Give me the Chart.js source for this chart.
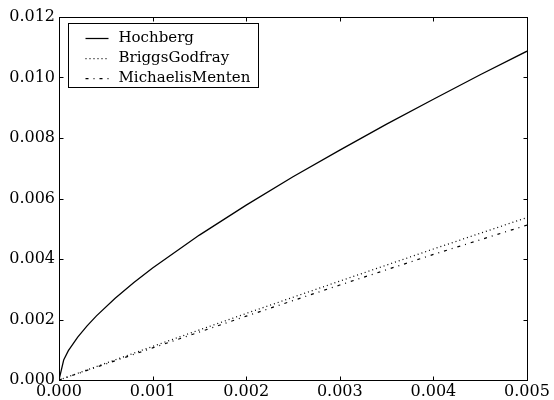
<!DOCTYPE html>
<html>
<head>
<meta charset="utf-8">
<script src="https://cdn.jsdelivr.net/npm/chart.js@4"></script>
<style>
  body { margin: 0; background: #fff; }
</style>
</head>
<body>
<canvas id="rateChart" width="554" height="400"></canvas>
<script>
// values
const hochbergX = [0, 0.00005, 0.0001, 0.0002, 0.0003, 0.0004, 0.0006, 0.0008, 0.001, 0.0015, 0.002, 0.0025, 0.003, 0.0035, 0.004, 0.0045, 0.005];
const hochberg = [0, 0.00066, 0.00097, 0.00142, 0.00179, 0.00212, 0.0027, 0.00322, 0.0037, 0.00479, 0.00578, 0.00672, 0.0076, 0.00846, 0.00928, 0.01009, 0.01087];
const linearX = [0, 0.001, 0.002, 0.003, 0.004, 0.005];
const briggsGodfray = [0, 0.00111, 0.0022, 0.00327, 0.00433, 0.00537];
const michaelisMenten = [0, 0.00106, 0.00211, 0.00314, 0.00415, 0.00512];
const xTicks = [0, 0.001, 0.002, 0.003, 0.004, 0.005];
const yTicks = [0, 0.002, 0.004, 0.006, 0.008, 0.01, 0.012];

function pairs(xs, ys) {
    return xs.map((x, i) => ({x: x, y: ys[i]}));
}

Chart.defaults.font.family = "'DejaVu Serif', serif";
Chart.defaults.font.size = 16;
Chart.defaults.color = '#000';

// box round the plot and inward tick marks on all four sides
const frameTicks = {
    id: 'frameTicks',
    afterDatasetsDraw(chart) {
        const ctx = chart.ctx;
        const a = chart.chartArea;
        const xs = chart.scales.x, ys = chart.scales.y;
        const L = Math.round(a.left) + 0.5, R = Math.round(a.right) + 0.5;
        const T = Math.round(a.top) + 0.5, B = Math.round(a.bottom) + 0.5;
        ctx.save();
        ctx.strokeStyle = '#000';
        ctx.lineWidth = 1;
        ctx.strokeRect(L, T, R - L, B - T);
        ctx.beginPath();
        xTicks.forEach(v => {
            const px = Math.round(xs.getPixelForValue(v)) + 0.5;
            ctx.moveTo(px, B); ctx.lineTo(px, B - 4);
            ctx.moveTo(px, T); ctx.lineTo(px, T + 4);
        });
        yTicks.forEach(v => {
            const py = Math.round(ys.getPixelForValue(v)) + 0.5;
            ctx.moveTo(L, py); ctx.lineTo(L + 4, py);
            ctx.moveTo(R, py); ctx.lineTo(R - 4, py);
        });
        ctx.stroke();
        ctx.restore();
    }
};

// boxed legend in the upper left corner
const boxLegend = {
    id: 'boxLegend',
    afterDraw(chart) {
        const ctx = chart.ctx;
        const a = chart.chartArea;
        const left = a.left + 9.5, top = a.top + 6.5;
        const w = 190, h = 64;
        ctx.save();
        ctx.fillStyle = '#fff';
        ctx.fillRect(left, top, w, h);
        ctx.strokeStyle = '#000';
        ctx.lineWidth = 1;
        ctx.strokeRect(left, top, w, h);
        ctx.font = "15px 'DejaVu Serif', serif";
        ctx.textBaseline = 'middle';
        ctx.fillStyle = '#000';
        chart.data.datasets.forEach((ds, i) => {
            const rowY = Math.round(top + 14 + i * 20) + 0.5;
            ctx.lineWidth = ds.borderWidth;
            ctx.setLineDash(ds.borderDash || []);
            ctx.beginPath();
            ctx.moveTo(left + 17, rowY);
            ctx.lineTo(left + 40, rowY);
            ctx.stroke();
            ctx.setLineDash([]);
            ctx.fillText(ds.label, left + 50, rowY);
        });
        ctx.restore();
    }
};

const ctx = document.getElementById('rateChart').getContext('2d');
const rateChart = new Chart(ctx, {
    type: 'line',
    data: {
        datasets: [{
            label: 'Hochberg',
            data: pairs(hochbergX, hochberg),
            borderColor: '#000',
            borderWidth: 1.25,
            pointRadius: 0,
            fill: false
        }, {
            label: 'BriggsGodfray',
            data: pairs(linearX, briggsGodfray),
            borderColor: '#000',
            borderWidth: 1.25,
            borderDash: [1, 3],
            pointRadius: 0,
            fill: false
        }, {
            label: 'MichaelisMenten',
            data: pairs(linearX, michaelisMenten),
            borderColor: '#000',
            borderWidth: 1.25,
            borderDash: [3, 5, 1, 5],
            pointRadius: 0,
            fill: false
        }]
    },
    options: {
        responsive: false,
        animation: false,
        layout: {
            padding: {top: 17, right: 27, left: 0, bottom: 0}
        },
        plugins: {
            legend: {display: false},
            tooltip: {enabled: false}
        },
        scales: {
            x: {
                type: 'linear',
                min: 0,
                max: 0.005,
                grid: {display: false, drawTicks: false},
                border: {display: false},
                afterFit: function(scale) { scale.height = 20; },
                ticks: {
                    stepSize: 0.001,
                    padding: 2,
                    maxRotation: 0,
                    callback: function(value) { return value.toFixed(3); }
                }
            },
            y: {
                type: 'linear',
                min: 0,
                max: 0.012,
                grid: {display: false, drawTicks: false},
                border: {display: false},
                afterFit: function(scale) { scale.width = 59; },
                ticks: {
                    stepSize: 0.002,
                    padding: 4,
                    callback: function(value) { return value.toFixed(3); }
                }
            }
        }
    },
    plugins: [frameTicks, boxLegend]
});
</script>
</body>
</html>
